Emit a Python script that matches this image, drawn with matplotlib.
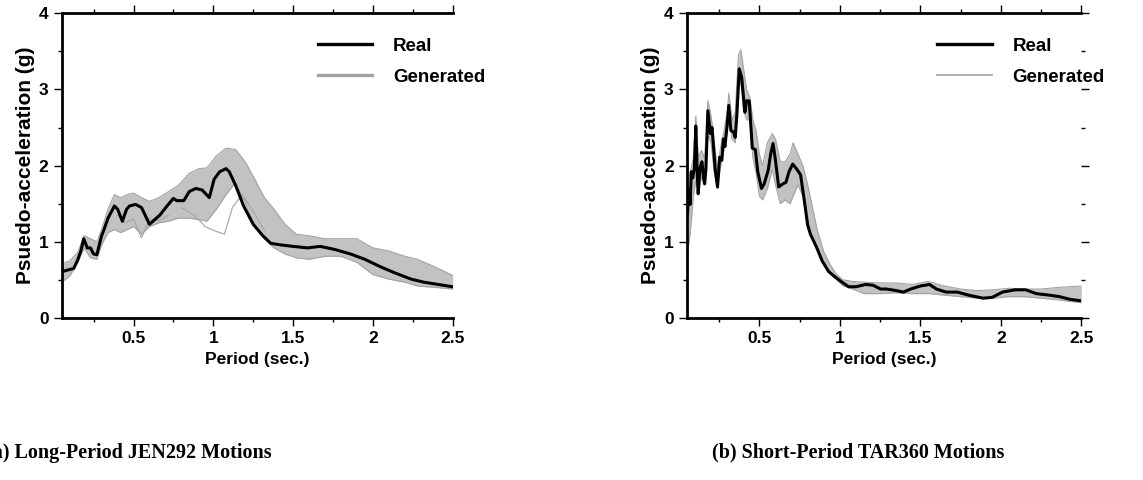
import numpy as np
import matplotlib
matplotlib.use("Agg")
import matplotlib.pyplot as plt
from matplotlib.ticker import MultipleLocator

# ---- JEN292 (long period) ----
jen_real_T = [0.055, 0.088, 0.125, 0.15, 0.17, 0.188, 0.21, 0.23, 0.25, 0.27, 0.30, 0.315,
              0.34, 0.38, 0.40, 0.43, 0.457, 0.475, 0.513, 0.55, 0.60, 0.665, 0.71, 0.75,
              0.77, 0.815, 0.85, 0.89, 0.93, 0.975, 1.005, 1.04, 1.08, 1.10, 1.14, 1.19,
              1.25, 1.31, 1.36, 1.42, 1.50, 1.59, 1.67, 1.76, 1.86, 1.95, 2.05, 2.14,
              2.24, 2.32, 2.41, 2.50]
jen_real_sa = [0.61, 0.63, 0.65, 0.76, 0.88, 1.04, 0.92, 0.92, 0.84, 0.83, 1.08, 1.16,
               1.31, 1.47, 1.43, 1.27, 1.43, 1.47, 1.49, 1.45, 1.23, 1.35, 1.47, 1.57,
               1.54, 1.54, 1.66, 1.70, 1.68, 1.58, 1.82, 1.92, 1.96, 1.92, 1.74, 1.47,
               1.23, 1.08, 0.98, 0.96, 0.94, 0.92, 0.94, 0.90, 0.84, 0.77, 0.67, 0.59,
               0.51, 0.47, 0.44, 0.41]

jen_gen_T = [0.05, 0.10, 0.15, 0.19, 0.23, 0.27, 0.30, 0.34, 0.38, 0.42, 0.46, 0.50,
             0.55, 0.60, 0.66, 0.72, 0.78, 0.85, 0.91, 0.96, 1.02, 1.08, 1.14, 1.20,
             1.26, 1.32, 1.38, 1.45, 1.52, 1.60, 1.70, 1.80, 1.90, 2.00, 2.10, 2.20,
             2.28, 2.40, 2.50]
jen_gen_hi = [0.71, 0.75, 0.86, 1.08, 1.04, 1.00, 1.16, 1.43, 1.62, 1.58, 1.62, 1.64,
              1.58, 1.53, 1.58, 1.66, 1.74, 1.90, 1.96, 1.97, 2.13, 2.23, 2.21, 2.05,
              1.82, 1.58, 1.43, 1.23, 1.10, 1.08, 1.04, 1.04, 1.04, 0.92, 0.88, 0.81,
              0.77, 0.66, 0.56]
jen_gen_lo = [0.47, 0.55, 0.73, 0.92, 0.79, 0.77, 0.96, 1.12, 1.16, 1.12, 1.16, 1.20,
              1.10, 1.20, 1.25, 1.27, 1.31, 1.31, 1.29, 1.27, 1.43, 1.62, 1.78, 1.51,
              1.20, 1.04, 0.92, 0.84, 0.79, 0.77, 0.81, 0.81, 0.73, 0.57, 0.51, 0.47,
              0.42, 0.40, 0.38]
# two generated records that stray from the bundle
jen_out1_T = [0.80, 0.88, 0.95, 1.00, 1.07, 1.12, 1.18, 1.25, 1.32]
jen_out1_sa = [1.45, 1.35, 1.20, 1.15, 1.10, 1.45, 1.62, 1.40, 1.15]
jen_out2_T = [0.40, 0.45, 0.50, 0.55, 0.60, 0.66, 0.72]
jen_out2_sa = [1.35, 1.25, 1.30, 1.05, 1.30, 1.28, 1.35]

# ---- TAR360 (short period) ----
tar_real_T = [0.054, 0.06, 0.07, 0.077, 0.086, 0.096, 0.105, 0.115, 0.12, 0.13, 0.143,
              0.153, 0.16, 0.168, 0.18, 0.196, 0.206, 0.21, 0.225, 0.24, 0.253, 0.267,
              0.276, 0.286, 0.30, 0.31, 0.323, 0.34, 0.35, 0.36, 0.375, 0.39, 0.41,
              0.42, 0.437, 0.456, 0.475, 0.49, 0.513, 0.53, 0.555, 0.57, 0.585, 0.60,
              0.62, 0.646, 0.665, 0.684, 0.707, 0.73, 0.756, 0.78, 0.80, 0.817, 0.855,
              0.89, 0.93, 0.97, 1.007, 1.055, 1.10, 1.16, 1.206, 1.253, 1.29, 1.35,
              1.395, 1.44, 1.50, 1.557, 1.60, 1.66, 1.73, 1.80, 1.89, 1.946, 2.01,
              2.09, 2.155, 2.22, 2.30, 2.365, 2.43, 2.50]
tar_real_sa = [1.37, 1.68, 1.49, 1.92, 1.84, 1.96, 2.52, 1.84, 1.63, 1.96, 2.05, 1.84,
               1.76, 1.96, 2.72, 2.42, 2.50, 2.39, 1.96, 1.72, 2.11, 2.07, 2.35, 2.25,
               2.54, 2.79, 2.46, 2.44, 2.37, 2.66, 3.27, 3.16, 2.70, 2.85, 2.85, 2.23,
               2.21, 1.92, 1.70, 1.76, 1.94, 2.15, 2.29, 2.07, 1.72, 1.76, 1.78, 1.92,
               2.02, 1.96, 1.88, 1.53, 1.22, 1.10, 0.93, 0.75, 0.61, 0.54, 0.48, 0.41,
               0.41, 0.44, 0.43, 0.38, 0.38, 0.36, 0.34, 0.38, 0.42, 0.44, 0.38, 0.34,
               0.34, 0.30, 0.26, 0.27, 0.34, 0.37, 0.37, 0.32, 0.30, 0.28, 0.245, 0.225]

tar_gen_T = [0.05, 0.07, 0.09, 0.105, 0.12, 0.14, 0.16, 0.18, 0.20, 0.22, 0.24, 0.26,
             0.28, 0.30, 0.31, 0.33, 0.35, 0.37, 0.385, 0.40, 0.42, 0.44, 0.46, 0.48,
             0.50, 0.52, 0.55, 0.58, 0.60, 0.63, 0.66, 0.69, 0.71, 0.74, 0.77, 0.80,
             0.83, 0.86, 0.90, 0.94, 0.98, 1.02, 1.08, 1.15, 1.25, 1.35, 1.45, 1.55,
             1.65, 1.75, 1.85, 1.95, 2.05, 2.15, 2.25, 2.35, 2.50]
tar_gen_hi = [1.75, 1.90, 2.10, 2.65, 2.10, 2.20, 2.10, 2.85, 2.65, 2.30, 1.95, 2.25,
              2.45, 2.70, 2.95, 2.60, 2.70, 3.45, 3.52, 3.30, 3.00, 2.90, 2.60, 2.45,
              2.15, 2.00, 2.30, 2.42, 2.35, 2.05, 2.05, 2.15, 2.30, 2.15, 2.00, 1.75,
              1.45, 1.15, 0.87, 0.70, 0.57, 0.50, 0.48, 0.47, 0.46, 0.46, 0.44, 0.48,
              0.42, 0.38, 0.36, 0.37, 0.39, 0.38, 0.38, 0.40, 0.42]
tar_gen_lo = [0.80, 1.10, 1.60, 1.80, 1.65, 1.85, 1.75, 2.40, 2.30, 1.90, 1.70, 2.00,
              2.20, 2.45, 2.65, 2.35, 2.30, 3.00, 3.10, 2.75, 2.60, 2.60, 2.10, 1.90,
              1.60, 1.55, 1.70, 1.95, 1.75, 1.50, 1.55, 1.50, 1.60, 1.75, 1.60, 1.30,
              1.05, 0.90, 0.72, 0.58, 0.50, 0.42, 0.38, 0.32, 0.32, 0.33, 0.32, 0.32,
              0.30, 0.28, 0.26, 0.26, 0.28, 0.28, 0.26, 0.24, 0.20]

x_ticks = [0.5, 1, 1.5, 2, 2.5]
y_ticks = [0, 1, 2, 3, 4]
captions = ["(a) Long-Period JEN292 Motions", "(b) Short-Period TAR360 Motions"]

gray = "#a3a3a3"
band = "#c2c2c2"
plt.rcParams["font.family"] = ["Liberation Sans", "DejaVu Sans"]
plt.rcParams["font.weight"] = "bold"

fig = plt.figure(figsize=(11.43, 4.8), dpi=100)
ax1 = fig.add_axes([0.054, 0.3375, 0.342, 0.635])
ax2 = fig.add_axes([0.601, 0.3375, 0.345, 0.635])


def draw_panel(ax, gT, glo, ghi, outliers, rT, rsa, right_ticks, leg_x, gen_lw):
    ax.fill_between(gT, glo, ghi, color=band, lw=0)
    ax.plot(gT, ghi, color=gray, lw=0.8)
    ax.plot(gT, glo, color=gray, lw=0.8)
    for oT, osa in outliers:
        ax.plot(oT, osa, color=gray, lw=0.8)
    ax.plot(rT, rsa, color="black", lw=2.2)

    # legend sits near the top right and runs past the frame
    h_real, = ax.plot([], [], color="black", lw=2.4, label="Real")
    h_gen, = ax.plot([], [], color=gray, lw=gen_lw, label="Generated")
    leg = ax.legend(handles=[h_real, h_gen], loc="upper left",
                    bbox_to_anchor=(leg_x, 0.92), frameon=False, fontsize=13.5,
                    handlelength=2.9, handletextpad=1.1, labelspacing=0.75,
                    borderpad=0, borderaxespad=0)
    leg.set_clip_on(False)

    ax.set_xlim(0.05, 2.5)
    ax.set_ylim(0, 4)
    ax.set_xticks(x_ticks)
    ax.set_xticklabels([f"{t:g}" for t in x_ticks])
    ax.set_yticks(y_ticks)
    ax.xaxis.set_minor_locator(MultipleLocator(0.25))
    ax.yaxis.set_minor_locator(MultipleLocator(0.5))
    ax.tick_params(which="both", direction="out", top=True, right=right_ticks,
                   width=1.0, labelsize=12.5)
    ax.tick_params(which="major", length=6)
    ax.tick_params(which="minor", length=3)
    for side in ["left", "bottom", "top"]:
        ax.spines[side].set_linewidth(2.0)
    ax.spines["right"].set_visible(False)
    ax.set_xlabel("Period (sec.)", fontsize=12.5, fontweight="bold", labelpad=4)
    ax.set_ylabel("Psuedo-acceleration (g)", fontsize=15, fontweight="bold",
                  labelpad=3)


draw_panel(ax1, jen_gen_T, jen_gen_lo, jen_gen_hi,
           [(jen_out1_T, jen_out1_sa), (jen_out2_T, jen_out2_sa)],
           jen_real_T, jen_real_sa, False, 0.655, 2.4)
draw_panel(ax2, tar_gen_T, tar_gen_lo, tar_gen_hi, [],
           tar_real_T, tar_real_sa, True, 0.635, 1.2)

fig.text(0.113, 0.057, captions[0], ha="center", va="center", fontsize=14.5,
         family="Liberation Serif", fontweight="bold")
fig.text(0.751, 0.057, captions[1], ha="center", va="center", fontsize=14.5,
         family="Liberation Serif", fontweight="bold")

fig.savefig("out.png", dpi=100)
